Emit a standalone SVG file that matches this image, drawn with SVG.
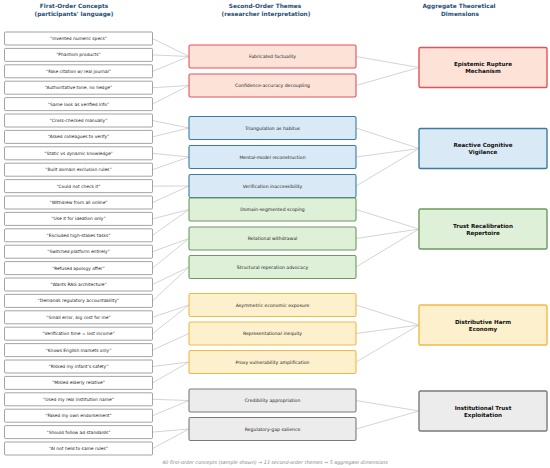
<svg xmlns="http://www.w3.org/2000/svg" width="550" height="468" viewBox="0 0 550 468">
<style>
.hdr{font-family:"DejaVu Sans",sans-serif;font-weight:bold;font-size:5.8px;fill:#1f4e79;text-anchor:middle}
.c1 rect{fill:#fff;stroke:#666;stroke-width:0.6}
.c1 text{font-family:"DejaVu Sans",sans-serif;font-size:4.4px;fill:#222;text-anchor:middle}
.t2 text{font-family:"DejaVu Sans",sans-serif;font-size:4.6px;fill:#222;text-anchor:middle}
.t2 rect{stroke-width:1.1}
.d3 text{font-family:"DejaVu Sans",sans-serif;font-weight:bold;font-size:5.6px;fill:#111;text-anchor:middle}
.d3 rect{stroke-width:1.4}
.red rect{fill:#fde2d8;stroke:#e4525c}
.blue rect{fill:#d9e9f5;stroke:#3b7c9c}
.green rect{fill:#dff0d8;stroke:#6b9a5e}
.yellow rect{fill:#fdf0cc;stroke:#f3b944}
.gray rect{fill:#ececec;stroke:#7a7a7a}
#connectors line{stroke:#cfcfcf;stroke-width:0.9}
.foot{font-family:"DejaVu Sans",sans-serif;font-style:italic;font-size:4.8px;fill:#888;text-anchor:middle}
</style>
<rect width="550" height="468" fill="#fff"/>
<g id="headers">
<text class="hdr" x="74" y="8">First-Order Concepts</text>
<text class="hdr" x="74" y="16">(participants' language)</text>
<text class="hdr" x="265" y="8">Second-Order Themes</text>
<text class="hdr" x="266" y="16">(researcher interpretation)</text>
<text class="hdr" x="459" y="8">Aggregate Theoretical</text>
<text class="hdr" x="460" y="16">Dimensions</text>
</g>
<g id="connectors">
<line x1="152.5" y1="38.5" x2="189" y2="56.5"/>
<line x1="152.5" y1="54.9" x2="189" y2="56.5"/>
<line x1="152.5" y1="71.3" x2="189" y2="56.5"/>
<line x1="152.5" y1="87.7" x2="189" y2="85.5"/>
<line x1="152.5" y1="104.1" x2="189" y2="85.5"/>
<line x1="152.5" y1="120.5" x2="189" y2="128"/>
<line x1="152.5" y1="136.9" x2="189" y2="128"/>
<line x1="152.5" y1="153.3" x2="189" y2="157"/>
<line x1="152.5" y1="169.7" x2="189" y2="157"/>
<line x1="152.5" y1="186.1" x2="189" y2="186"/>
<line x1="152.5" y1="202.5" x2="189" y2="186"/>
<line x1="152.5" y1="218.9" x2="189" y2="209.5"/>
<line x1="152.5" y1="235.3" x2="189" y2="209.5"/>
<line x1="152.5" y1="251.7" x2="189" y2="238.5"/>
<line x1="152.5" y1="268.1" x2="189" y2="238.5"/>
<line x1="152.5" y1="284.5" x2="189" y2="267"/>
<line x1="152.5" y1="300.9" x2="189" y2="267"/>
<line x1="152.5" y1="317.3" x2="189" y2="305"/>
<line x1="152.5" y1="333.7" x2="189" y2="305"/>
<line x1="152.5" y1="350.1" x2="189" y2="333.5"/>
<line x1="152.5" y1="366.5" x2="189" y2="362"/>
<line x1="152.5" y1="382.9" x2="189" y2="362"/>
<line x1="152.5" y1="399.3" x2="189" y2="400.5"/>
<line x1="152.5" y1="415.7" x2="189" y2="400.5"/>
<line x1="152.5" y1="432.1" x2="189" y2="429"/>
<line x1="152.5" y1="448.5" x2="189" y2="429"/>
<line x1="356" y1="56.5" x2="419" y2="67.5"/>
<line x1="356" y1="85.5" x2="419" y2="67.5"/>
<line x1="356" y1="128" x2="419" y2="148.5"/>
<line x1="356" y1="157" x2="419" y2="148.5"/>
<line x1="356" y1="186" x2="419" y2="148.5"/>
<line x1="356" y1="209.5" x2="419" y2="229"/>
<line x1="356" y1="238.5" x2="419" y2="229"/>
<line x1="356" y1="267" x2="419" y2="229"/>
<line x1="356" y1="305" x2="419" y2="325"/>
<line x1="356" y1="333.5" x2="419" y2="325"/>
<line x1="356" y1="362" x2="419" y2="325"/>
<line x1="356" y1="400.5" x2="419" y2="411"/>
<line x1="356" y1="429" x2="419" y2="411"/>
</g>
<g class="c1">
<g id="c01"><rect x="4.5" y="32" width="148" height="13" rx="1"/><text x="78.5" y="40">“Invented numeric specs”</text></g>
<g id="c02"><rect x="4.5" y="48.4" width="148" height="13" rx="1"/><text x="78.5" y="56.4">“Phantom products”</text></g>
<g id="c03"><rect x="4.5" y="64.8" width="148" height="13" rx="1"/><text x="78.5" y="72.8">“Fake citation w/ real journal”</text></g>
<g id="c04"><rect x="4.5" y="81.2" width="148" height="13" rx="1"/><text x="78.5" y="89.2">“Authoritative tone, no hedge”</text></g>
<g id="c05"><rect x="4.5" y="97.6" width="148" height="13" rx="1"/><text x="78.5" y="105.6">“Same look as verified info”</text></g>
<g id="c06"><rect x="4.5" y="114" width="148" height="13" rx="1"/><text x="78.5" y="122">“Cross-checked manually”</text></g>
<g id="c07"><rect x="4.5" y="130.4" width="148" height="13" rx="1"/><text x="78.5" y="138.4">“Asked colleagues to verify”</text></g>
<g id="c08"><rect x="4.5" y="146.8" width="148" height="13" rx="1"/><text x="78.5" y="154.8">“Static vs dynamic knowledge”</text></g>
<g id="c09"><rect x="4.5" y="163.2" width="148" height="13" rx="1"/><text x="78.5" y="171.2">“Built domain exclusion rules”</text></g>
<g id="c10"><rect x="4.5" y="179.6" width="148" height="13" rx="1"/><text x="78.5" y="187.6">“Could not check it”</text></g>
<g id="c11"><rect x="4.5" y="196" width="148" height="13" rx="1"/><text x="78.5" y="204">“Withdrew from all online”</text></g>
<g id="c12"><rect x="4.5" y="212.4" width="148" height="13" rx="1"/><text x="78.5" y="220.4">“Use it for ideation only”</text></g>
<g id="c13"><rect x="4.5" y="228.8" width="148" height="13" rx="1"/><text x="78.5" y="236.8">“Excluded high-stakes tasks”</text></g>
<g id="c14"><rect x="4.5" y="245.2" width="148" height="13" rx="1"/><text x="78.5" y="253.2">“Switched platform entirely”</text></g>
<g id="c15"><rect x="4.5" y="261.6" width="148" height="13" rx="1"/><text x="78.5" y="269.6">“Refused apology offer”</text></g>
<g id="c16"><rect x="4.5" y="278" width="148" height="13" rx="1"/><text x="78.5" y="286">“Wants RAG architecture”</text></g>
<g id="c17"><rect x="4.5" y="294.4" width="148" height="13" rx="1"/><text x="78.5" y="302.4">“Demands regulatory accountability”</text></g>
<g id="c18"><rect x="4.5" y="310.8" width="148" height="13" rx="1"/><text x="78.5" y="318.8">“Small error, big cost for me”</text></g>
<g id="c19"><rect x="4.5" y="327.2" width="148" height="13" rx="1"/><text x="78.5" y="335.2">“Verification time = lost income”</text></g>
<g id="c20"><rect x="4.5" y="343.6" width="148" height="13" rx="1"/><text x="78.5" y="351.6">“Knows English markets only”</text></g>
<g id="c21"><rect x="4.5" y="360" width="148" height="13" rx="1"/><text x="78.5" y="368">“Risked my infant’s safety”</text></g>
<g id="c22"><rect x="4.5" y="376.4" width="148" height="13" rx="1"/><text x="78.5" y="384.4">“Misled elderly relative”</text></g>
<g id="c23"><rect x="4.5" y="392.8" width="148" height="13" rx="1"/><text x="78.5" y="400.8">“Used my real institution name”</text></g>
<g id="c24"><rect x="4.5" y="409.2" width="148" height="13" rx="1"/><text x="78.5" y="417.2">“Faked my own endorsement”</text></g>
<g id="c25"><rect x="4.5" y="425.6" width="148" height="13" rx="1"/><text x="78.5" y="433.6">“Should follow ad standards”</text></g>
<g id="c26"><rect x="4.5" y="442" width="148" height="13" rx="1"/><text x="78.5" y="450">“AI not held to same rules”</text></g>
</g>
<g class="t2">
<g id="t01" class="red"><rect x="189" y="45" width="167" height="23" rx="1.5"/><text x="272.5" y="58.1">Fabricated factuality</text></g>
<g id="t02" class="red"><rect x="189" y="74" width="167" height="23" rx="1.5"/><text x="272.5" y="87.1">Confidence-accuracy decoupling</text></g>
<g id="t03" class="blue"><rect x="189" y="116.5" width="167" height="23" rx="1.5"/><text x="272.5" y="129.6">Triangulation as habitus</text></g>
<g id="t04" class="blue"><rect x="189" y="145.5" width="167" height="23" rx="1.5"/><text x="272.5" y="158.6">Mental-model reconstruction</text></g>
<g id="t05" class="blue"><rect x="189" y="174.5" width="167" height="23" rx="1.5"/><text x="272.5" y="187.6">Verification inaccessibility</text></g>
<g id="t06" class="green"><rect x="189" y="198" width="167" height="23" rx="1.5"/><text x="272.5" y="211.1">Domain-segmented scoping</text></g>
<g id="t07" class="green"><rect x="189" y="227" width="167" height="23" rx="1.5"/><text x="272.5" y="240.1">Relational withdrawal</text></g>
<g id="t08" class="green"><rect x="189" y="255.5" width="167" height="23" rx="1.5"/><text x="272.5" y="268.6">Structural reperation advocacy</text></g>
<g id="t09" class="yellow"><rect x="189" y="293.5" width="167" height="23" rx="1.5"/><text x="272.5" y="306.6">Asymmetric economic exposure</text></g>
<g id="t10" class="yellow"><rect x="189" y="322" width="167" height="23" rx="1.5"/><text x="272.5" y="335.1">Representational inequity</text></g>
<g id="t11" class="yellow"><rect x="189" y="350.5" width="167" height="23" rx="1.5"/><text x="272.5" y="363.6">Proxy vulnerability amplification</text></g>
<g id="t12" class="gray"><rect x="189" y="389" width="167" height="23" rx="1.5"/><text x="272.5" y="402.1">Credibility appropriation</text></g>
<g id="t13" class="gray"><rect x="189" y="417.5" width="167" height="23" rx="1.5"/><text x="272.5" y="430.6">Regulatory-gap salience</text></g>
</g>
<g class="d3">
<g id="d1" class="red"><rect x="419" y="47.5" width="128" height="40" rx="1.5"/><text x="483" y="66">Epistemic Rupture</text><text x="483" y="73">Mechanism</text></g>
<g id="d2" class="blue"><rect x="419" y="128.5" width="128" height="40" rx="1.5"/><text x="483" y="147">Reactive Cognitive</text><text x="483" y="154">Vigilance</text></g>
<g id="d3" class="green"><rect x="419" y="209" width="128" height="40" rx="1.5"/><text x="483" y="227.5">Trust Recalibration</text><text x="483" y="234.5">Repertoire</text></g>
<g id="d4" class="yellow"><rect x="419" y="305" width="128" height="40" rx="1.5"/><text x="483" y="323.5">Distributive Harm</text><text x="483" y="330.5">Economy</text></g>
<g id="d5" class="gray"><rect x="419" y="391" width="128" height="40" rx="1.5"/><text x="483" y="409.5">Institutional Trust</text><text x="483" y="416.5">Exploitation</text></g>
</g>
<text class="foot" x="275" y="464">40 first-order concepts (sample shown) → 13 second-order themes → 5 aggregate dimensions</text>
</svg>
